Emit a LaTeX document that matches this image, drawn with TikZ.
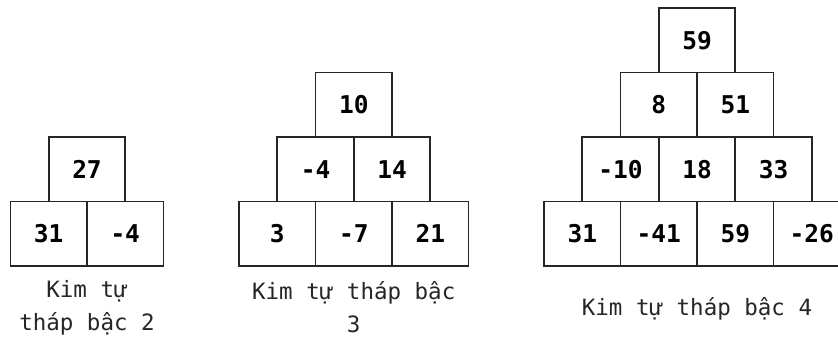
\documentclass[tikz,border=0pt]{standalone}
\usepackage{fontspec}
\setmonofont{DejaVu Sans Mono}
\newfontfamily\capfont{DejaVu Sans Mono}
\begin{document}
\begin{tikzpicture}[x=1pt,y=1pt,
  cell/.style={draw=black!85, line width=1.8pt, minimum width=76.5pt, minimum height=64.5pt,
    inner sep=0pt, font=\ttfamily\bfseries\fontsize{24.5}{28}\selectfont, text=black},
  captext/.style={align=center, font=\capfont\fontsize{22.5}{33}\selectfont, text=black!85}]
\clip (0,0) rectangle (838,-338);
% Pyramid 2
\node[cell] (a11) at (87,-169.25) {27};
\node[cell] (a21) at (48.75,-233.75) {31};
\node[cell] (a22) at (125.25,-233.75) {-4};
\node[captext] (acap) at (87,-307.5) {Kim tự\\tháp bậc 2};
% Pyramid 3
\node[cell] (b11) at (353.75,-104.75) {10};
\node[cell] (b21) at (315.5,-169.25) {-4};
\node[cell] (b22) at (392,-169.25) {14};
\node[cell] (b31) at (277.25,-233.75) {3};
\node[cell] (b32) at (353.75,-233.75) {-7};
\node[cell] (b33) at (430.25,-233.75) {21};
\node[captext] (bcap) at (353.75,-307.5) {Kim tự tháp bậc\\3};
% Pyramid 4
\node[cell] (c11) at (697,-40.25) {59};
\node[cell] (c21) at (658.75,-104.75) {8};
\node[cell] (c22) at (735.25,-104.75) {51};
\node[cell] (c31) at (620.5,-169.25) {-10};
\node[cell] (c32) at (697,-169.25) {18};
\node[cell] (c33) at (773.5,-169.25) {33};
\node[cell] (c41) at (582.25,-233.75) {31};
\node[cell] (c42) at (658.75,-233.75) {-41};
\node[cell] (c43) at (735.25,-233.75) {59};
\node[cell] (c44) at (811.75,-233.75) {-26};
\node[captext] (ccap) at (697,-309) {Kim tự tháp bậc 4};
\end{tikzpicture}
\end{document}
